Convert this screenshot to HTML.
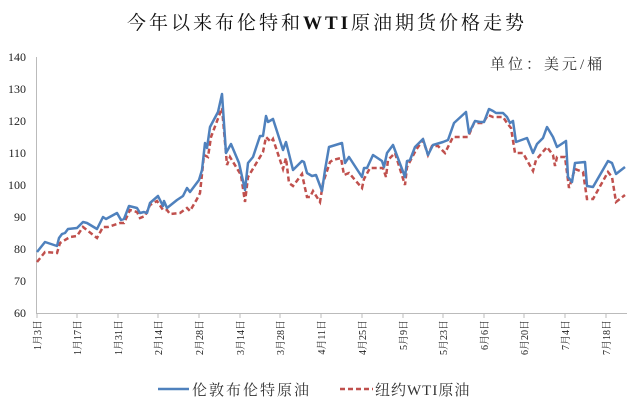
<!DOCTYPE html>
<html><head><meta charset="utf-8"><style>
body{margin:0;background:#fff;}
svg text{font-family:"Liberation Serif","Noto Serif CJK SC","Noto Sans CJK SC",serif;}
</style></head><body>
<svg width="640" height="415" viewBox="0 0 640 415" xmlns="http://www.w3.org/2000/svg">
<rect width="640" height="415" fill="#fff"/>
<text x="327" y="29" text-anchor="middle" font-size="19" letter-spacing="3" fill="#111">今年以来布伦特和<tspan font-weight="bold">WTI</tspan>原油期货价格走势</text>
<text x="490" y="69" font-size="15" letter-spacing="3" fill="#333">单位：美元/桶</text>
<g font-size="12" fill="#222" text-anchor="end">
<text x="26" y="61">140</text><text x="26" y="93">130</text><text x="26" y="125">120</text><text x="26" y="157">110</text><text x="26" y="189">100</text><text x="26" y="221">90</text><text x="26" y="253">80</text><text x="26" y="285">70</text><text x="26" y="317">60</text>
</g>
<line x1="36.5" y1="57" x2="36.5" y2="313" stroke="#bbb"/>
<line x1="36" y1="313.5" x2="627" y2="313.5" stroke="#bbb"/>
<g stroke="#bbb">
<line x1="37" y1="313" x2="37" y2="318"/><line x1="77" y1="313" x2="77" y2="318"/><line x1="118" y1="313" x2="118" y2="318"/><line x1="158" y1="313" x2="158" y2="318"/><line x1="199" y1="313" x2="199" y2="318"/><line x1="240" y1="313" x2="240" y2="318"/><line x1="280" y1="313" x2="280" y2="318"/><line x1="321" y1="313" x2="321" y2="318"/><line x1="362" y1="313" x2="362" y2="318"/><line x1="403" y1="313" x2="403" y2="318"/><line x1="443" y1="313" x2="443" y2="318"/><line x1="484" y1="313" x2="484" y2="318"/><line x1="524" y1="313" x2="524" y2="318"/><line x1="565" y1="313" x2="565" y2="318"/><line x1="606" y1="313" x2="606" y2="318"/>
</g>
<g font-size="10" fill="#222" text-anchor="end">
<text transform="translate(41,320) rotate(-90)">1月3日</text>
<text transform="translate(81,320) rotate(-90)">1月17日</text>
<text transform="translate(122,320) rotate(-90)">1月31日</text>
<text transform="translate(162,320) rotate(-90)">2月14日</text>
<text transform="translate(203,320) rotate(-90)">2月28日</text>
<text transform="translate(244,320) rotate(-90)">3月14日</text>
<text transform="translate(284,320) rotate(-90)">3月28日</text>
<text transform="translate(325,320) rotate(-90)">4月11日</text>
<text transform="translate(366,320) rotate(-90)">4月25日</text>
<text transform="translate(407,320) rotate(-90)">5月9日</text>
<text transform="translate(447,320) rotate(-90)">5月23日</text>
<text transform="translate(488,320) rotate(-90)">6月6日</text>
<text transform="translate(528,320) rotate(-90)">6月20日</text>
<text transform="translate(569,320) rotate(-90)">7月4日</text>
<text transform="translate(610,320) rotate(-90)">7月18日</text>
</g>
<polyline fill="none" stroke="#c0504d" stroke-width="2.5" stroke-dasharray="5,3" points="37,262 45,252 57,253 60,243 70,237 77,236 83,227 97,238 103,227 108,227 120,223 124,223 130,210 137,212 140,218 145,216 150,205 157,201 163,210 167,210 170,214 180,213 187,208 190,211 197,199 200,193 204,155 208,157 211,137 222,108 227,165 230,157 241,175 245,202 248,177 263,152 266,137 271,142 273,139 283,169 286,158 289,183 293,186 302,174 305,188 307,197 310,197 313,191 320,202 323,183 330,162 333,160 341,158 344,175 349,173 362,188 364,179 370,168 383,168 386,177 388,160 395,153 405,185 407,167 416,150 423,140 428,155 432,146 438,146 445,153 453,137 462,137 468,137 474,123 483,123 488,115 493,117 503,117 507,123 511,128 515,153 523,153 533,171 536,160 547,147 553,155 555,166 557,157 565,157 569,188 575,169 583,172 587,199 593,199 608,172 612,177 616,202 625,195"/>
<polyline fill="none" stroke="#4f81bd" stroke-width="2.5" stroke-linejoin="round" points="37,252 45,242 57,246 59,238 62,234 65,233 68,229 77,228 83,222 87,223 97,229 103,217 106,219 117,213 121,220 124,219 129,206 137,208 140,213 144,212 147,213 150,203 158,196 163,206 164,201 167,208 177,200 183,196 187,188 190,192 199,180 202,170 205,143 207,148 210,127 218,112 222,94 226,153 231,144 239,163 245,190 248,163 253,157 260,136 263,136 266,116 268,122 273,119 283,150 286,142 293,170 302,161 304,162 307,173 312,176 316,175 322,191 325,170 329,147 342,143 345,163 349,157 362,177 364,168 367,168 373,155 382,161 384,167 387,153 393,145 405,177 407,161 410,160 415,147 423,139 428,155 433,145 443,142 448,140 454,123 466,112 469,133 475,121 480,122 484,122 489,109 493,111 496,113 503,113 507,117 510,123 513,121 516,142 527,138 533,153 537,144 543,138 547,127 553,137 557,147 566,141 568,177 572,182 575,163 585,162 587,186 593,187 608,161 612,163 616,174 625,167"/>
<line x1="158" y1="389" x2="189" y2="389" stroke="#4f81bd" stroke-width="2.5"/>
<text x="192" y="395" font-size="15" letter-spacing="2" fill="#333">伦敦布伦特原油</text>
<line x1="340" y1="389" x2="373" y2="389" stroke="#c0504d" stroke-width="2.5" stroke-dasharray="5,3"/>
<text x="375" y="395" font-size="15" letter-spacing="1" fill="#333">纽约WTI原油</text>
</svg>
</body></html>
